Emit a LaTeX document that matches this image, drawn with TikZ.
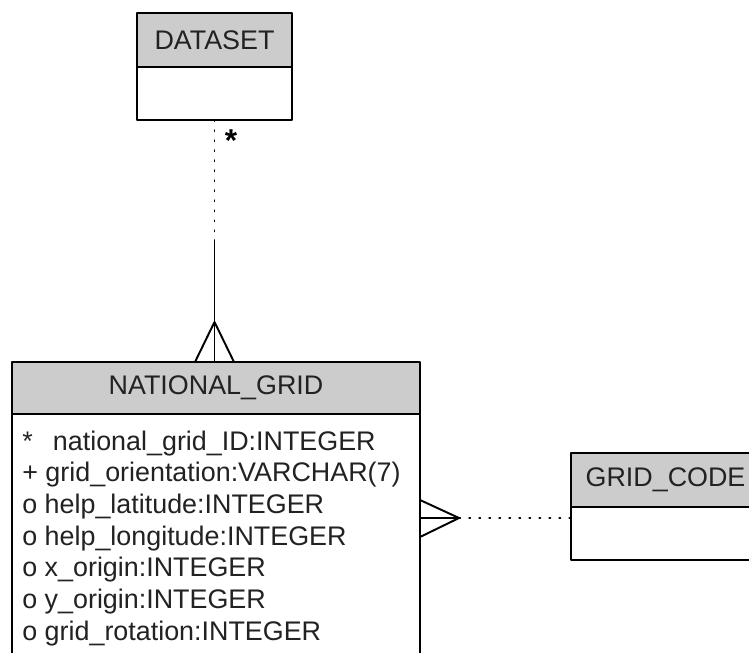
\documentclass[tikz,border=0pt]{standalone}
\usepackage{fontspec}
\setmainfont{Liberation Sans}
\usetikzlibrary{positioning}

\definecolor{headgray}{RGB}{204,204,204}
\definecolor{textgray}{RGB}{34,34,34}

\tikzset{
  enthead/.style={draw, fill=headgray, line width=1.1pt, outer sep=0pt,
    inner sep=0pt, text=textgray, font=\fontsize{15.3}{18}\selectfont},
  entbody/.style={draw, fill=white, line width=1.1pt, outer sep=0pt, inner sep=0pt},
  attr/.style={anchor=base west, inner sep=0pt, text=textgray,
    font=\fontsize{15.3}{18}\selectfont},
  rel/.style={line width=1.1pt},
  reldots/.style={line width=0.8pt, dash pattern=on 0.8pt off 4.9pt}
}

\begin{document}
\begin{tikzpicture}[x=0.02cm, y=-0.02cm, line cap=round, line join=round]

\useasboundingbox (0,0) rectangle (749,652);
\clip (0,0) rectangle (749,652);

% entities
\node[enthead, minimum width=3.1cm, minimum height=1.08cm] (ds head) at (214.5,40) {DATASET};
\node[entbody, minimum width=3.1cm, minimum height=1.06cm, below=0pt of ds head] (ds body) {};

\node[enthead, minimum width=8.16cm, minimum height=1.04cm] (ng head) at (216,388) {NATIONAL\_GRID};
\node[entbody, minimum width=8.16cm, minimum height=6cm, below=0pt of ng head] (ng body) {};

\node[enthead, minimum width=3.78cm, minimum height=1.08cm] (gc head) at (665.5,480) {GRID\_CODE};
\node[entbody, minimum width=3.78cm, minimum height=1.06cm, below=0pt of gc head] (gc body) {};

\foreach \i/\t in {0/{*\hspace{0.75em}national\_grid\_ID:INTEGER},
                   1/{+ grid\_orientation:VARCHAR(7)},
                   2/{o help\_latitude:INTEGER},
                   3/{o help\_longitude:INTEGER},
                   4/{o x\_origin:INTEGER},
                   5/{o y\_origin:INTEGER},
                   6/{o grid\_rotation:INTEGER}}
  \node[attr] (ng attr\i) at (22,{450+31.7*\i}) {\t};

% DATASET -- NATIONAL_GRID
\node[font=\bfseries\fontsize{18}{18}\selectfont] (ds star) at (231,141) {*};
\coordinate (ds solid) at (214.5,240);
\coordinate (ds crow) at (214.5,322);
\draw[reldots] (ds body.south) -- (ds solid);
\draw[rel] (ds solid) -- (ds solid |- ng head.north);
\draw[rel] (ds crow) -- ++(-19.5,40) (ds crow) -- ++(19.5,40);

% NATIONAL_GRID -- GRID_CODE
\coordinate (gc crow) at (459,518);
\draw[rel] (ng head.east |- gc crow) -- (gc crow);
\draw[rel] (gc crow) -- ++(-39,-18) (gc crow) -- ++(-39,19);
\draw[reldots] (gc crow) -- (gc crow -| gc body.west);

\end{tikzpicture}
\end{document}
